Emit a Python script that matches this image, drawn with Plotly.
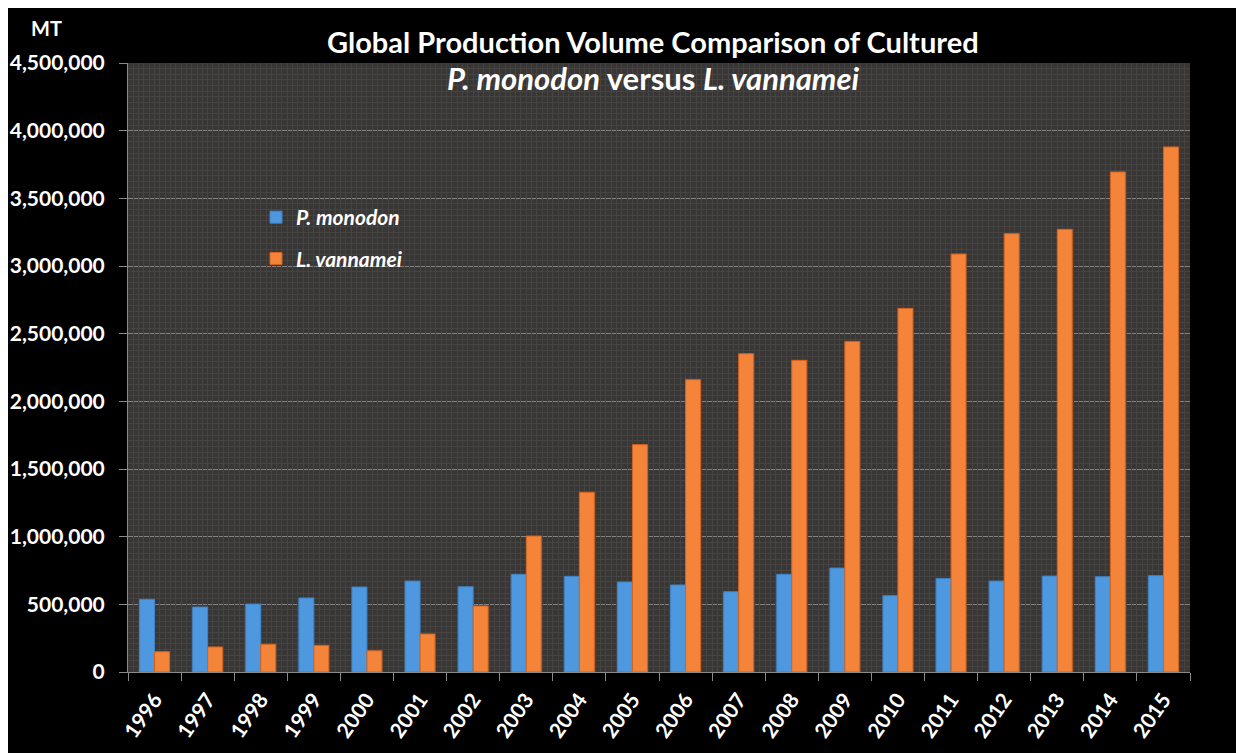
import plotly.graph_objects as go

years = [str(y) for y in range(1996, 2016)]
monodon = [537000, 480000, 502000, 547000, 628000, 672000, 630000, 722000, 707000, 665000,
           643000, 593000, 722000, 768000, 564000, 690000, 672000, 709000, 704000, 712000]
vannamei = [150000, 185000, 205000, 197000, 157000, 281000, 488000, 1005000, 1328000, 1680000,
            2160000, 2352000, 2303000, 2443000, 2687000, 3089000, 3239000, 3271000, 3695000, 3880000]
series_names = ["<b><i>P. monodon</i></b>", "<b><i>L. vannamei</i></b>"]
y_ticks = list(range(0, 4500001, 500000))

FONT = "Lato"
OFF = 8                      # page body margin of the browser
W, H = 1244 - OFF, 753 - OFF
L, R, T, B = 128 - OFF, 54, 63 - OFF, 81
pw, ph = W - L - R, H - T - B

def px(x):  # picture pixel -> paper
    return (x - OFF - L) / pw

def py(y):
    return (H - B - (y - OFF)) / ph

fig = go.Figure()
fig.add_trace(go.Bar(x=years, y=monodon, name=series_names[0], legendgroup="a",
                     marker=dict(color="#4d98df", line=dict(color="#3f84c8", width=1))))
fig.add_trace(go.Bar(x=years, y=vannamei, name=series_names[1], legendgroup="b",
                     marker=dict(color="#f3843a", line=dict(color="#d4621c", width=1))))
# helper (invisible) trace so the texture axis is drawn
fig.add_trace(go.Scatter(x=[0, len(years)], y=[0, 0], xaxis="x2", mode="none",
                         showlegend=False, hoverinfo="skip"))

fig.update_layout(
    width=W, height=H,
    margin=dict(l=L, r=R, t=T, b=B, autoexpand=False),
    paper_bgcolor="#000000",
    plot_bgcolor="#393636",
    barmode="group", bargap=0.435, bargroupgap=0,
    font=dict(family=FONT, color="white"),
    showlegend=True,
    legend=dict(x=px(256), y=py(197), xanchor="left", yanchor="top",
                bgcolor="rgba(0,0,0,0)", font=dict(size=21, color="white", family=FONT),
                traceorder="grouped", tracegroupgap=11, itemwidth=30),
    xaxis=dict(type="category", tickangle=-55, automargin=False,
               tickfont=dict(size=21, color="white", family=FONT, weight="bold"),
               ticklabelstandoff=6,
               showgrid=False, showline=True, linecolor="#8a8a8a", linewidth=1,
               ticks="outside", tickson="boundaries", ticklen=8, tickcolor="#8a8a8a"),
    xaxis2=dict(overlaying="x", range=[0, len(years)], showgrid=True, dtick=0.1,
                gridcolor="#464343", gridwidth=1, showticklabels=False, zeroline=False,
                ticks="", showline=False, automargin=False),
    yaxis=dict(range=[0, 4500000], tickvals=y_ticks, tickformat=",", automargin=False,
               tickfont=dict(size=21, color="white", family=FONT, weight="bold"),
               ticklabelstandoff=10,
               showgrid=True, gridcolor="#858282", gridwidth=1,
               minor=dict(dtick=500000 / 12, showgrid=True, gridcolor="#464343", gridwidth=1),
               showline=True, linecolor="#8a8a8a", linewidth=1, zeroline=False,
               ticks="outside", ticklen=8, tickcolor="#8a8a8a"),
)

fig.add_annotation(text="<b>Global Production Volume Comparison of Cultured</b>",
                   x=px(653), y=py(41), xref="paper", yref="paper", showarrow=False,
                   xanchor="center", yanchor="middle",
                   font=dict(size=29, color="white", family=FONT))
fig.add_annotation(text="<b><i>P. monodon</i> versus <i>L. vannamei</i></b>",
                   x=px(653), y=py(78), xref="paper", yref="paper", showarrow=False,
                   xanchor="center", yanchor="middle",
                   font=dict(size=31, color="white", family=FONT))
fig.add_annotation(text="<b>MT</b>", x=px(46), y=py(28), xref="paper", yref="paper",
                   showarrow=False, xanchor="center", yanchor="middle",
                   font=dict(size=20, color="white", family=FONT))

fig.write_html("out.html")
